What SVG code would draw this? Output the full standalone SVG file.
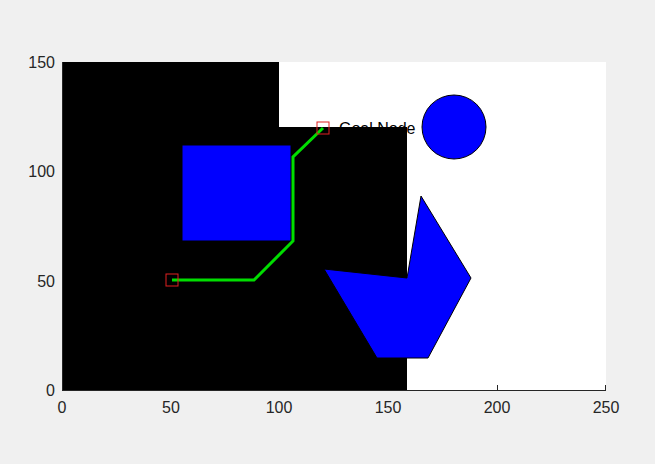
<svg xmlns="http://www.w3.org/2000/svg" width="655" height="464" viewBox="0 0 655 464">
<style>
.tick{font-family:"Liberation Sans",Arial,sans-serif;font-size:16px;fill:#262626}
.ax{stroke:#262626;stroke-width:1;fill:none}
.obs{fill:#0000ff;stroke:#000;stroke-width:1}
.mk{fill:none;stroke:#e02020;stroke-width:1}
</style>
<rect width="655" height="464" fill="#f0f0f0"/>
<rect x="62" y="62" width="544" height="328" fill="#fff"/>
<g id="map">
<polygon points="62,62 279,62 279,127 407,127 407,390 62,390" fill="#000"/>
</g>
<g id="rect-obstacle"><rect class="obs" x="182" y="145" width="109" height="96"/></g>
<g id="circle-obstacle"><circle class="obs" cx="454" cy="127" r="32"/></g>
<g id="poly-obstacle"><polygon class="obs" points="324,269 407,278 421,196 471,278 428,358 377,358"/></g>
<g id="axes">
<line class="ax" x1="62" y1="390.5" x2="606" y2="390.5"/>
<line class="ax" x1="62.5" y1="62" x2="62.5" y2="390"/>
<line class="ax" x1="497.5" y1="390" x2="497.5" y2="385"/>
<line class="ax" x1="605.5" y1="390" x2="605.5" y2="385"/>
<g class="tick" text-anchor="middle">
<text x="62" y="413">0</text><text x="171" y="413">50</text><text x="279" y="413">100</text><text x="388" y="413">150</text><text x="497" y="413">200</text><text x="606" y="413">250</text>
</g>
<g class="tick" text-anchor="end">
<text x="55" y="396">0</text><text x="55" y="287">50</text><text x="55" y="177">100</text><text x="55" y="68">150</text>
</g>
</g>
<g id="connectors">
<polyline points="172,280 254,280 293,241 293,157 323,128" fill="none" stroke="#00dd00" stroke-width="3" stroke-linejoin="miter"/>
</g>
<g id="start-node"><rect class="mk" x="166" y="274" width="12" height="12"/></g>
<g id="goal-node"><rect class="mk" x="317" y="122" width="12" height="12"/>
<text x="339" y="134" font-family="'Liberation Sans',Arial,sans-serif" font-size="16" fill="#000">Goal Node</text></g>
</svg>
